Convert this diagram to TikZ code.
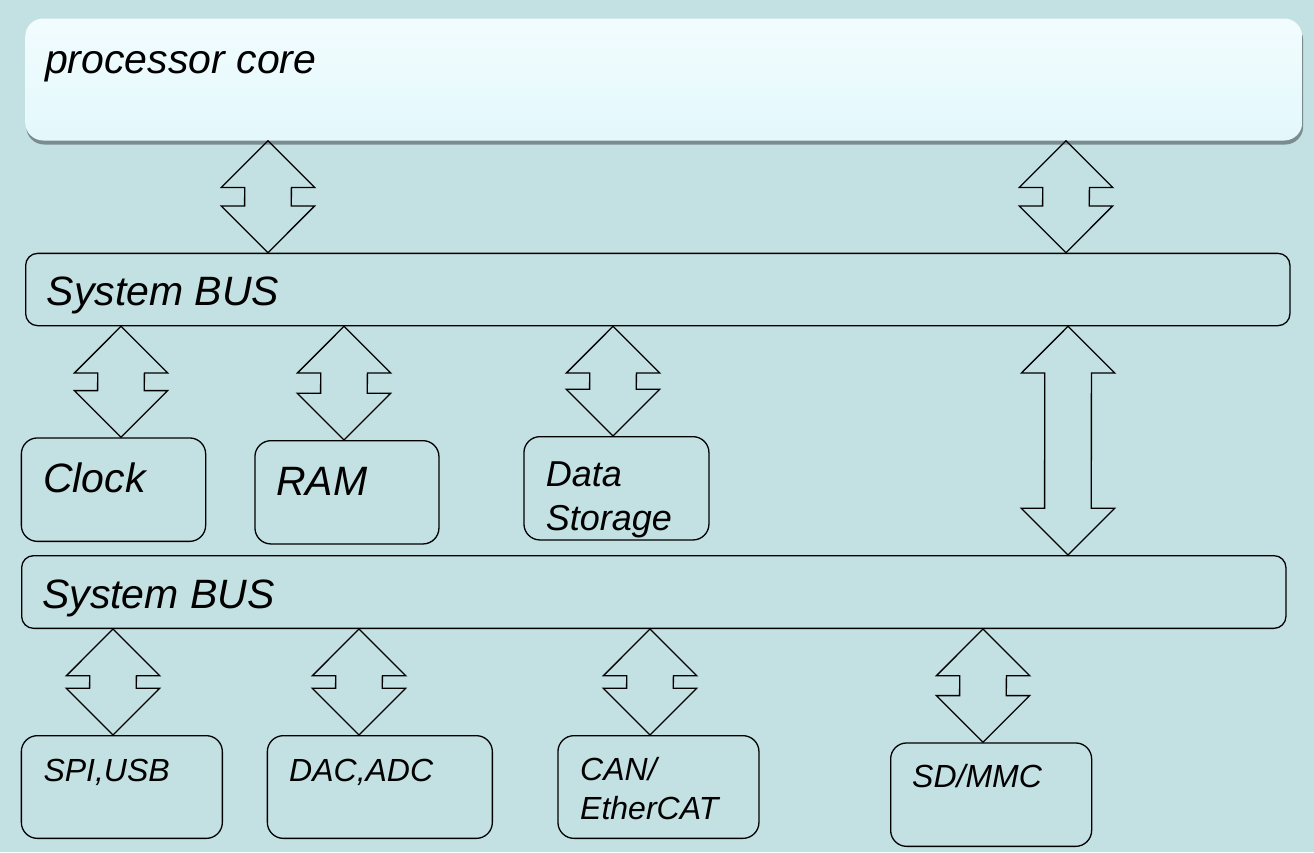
\documentclass[tikz,border=0pt]{standalone}
\usepackage{fontspec}
\setmainfont{Liberation Sans}
\usetikzlibrary{calc,shadows}
\definecolor{bgteal}{RGB}{195,224,226}
\definecolor{coretop}{RGB}{242,252,254}
\definecolor{corebot}{RGB}{227,248,252}
\definecolor{coreshade}{RGB}{122,140,142}
\begin{document}
\begin{tikzpicture}[x=1pt,y=-1pt,line join=round,line cap=round]
			\tikzset{unit/.style={draw,rounded corners=16pt,line width=1.3pt,inner sep=0pt,anchor=north west},
				bus/.style={unit,rounded corners=12pt},
				lbl/.style={inner sep=0pt,anchor=base west,font=\itshape\fontsize{41}{44}\selectfont},
				lblmid/.style={lbl,font=\itshape\fontsize{36}{40}\selectfont},
				lblsmall/.style={lbl,font=\itshape\fontsize{32}{36}\selectfont},
				bigarrow/.style={draw,line width=1.3pt,line join=miter}}
			\fill[bgteal] (0,0) rectangle (1314,852);
			\useasboundingbox (0,0) rectangle (1314,852);
			% blocks
			\node[inner sep=0pt,anchor=north west,rounded corners=18pt,top color=coretop,bottom color=corebot,
				drop shadow={shadow xshift=1pt,shadow yshift=-4pt,fill=coreshade,opacity=1},
				minimum width=1277pt,minimum height=122pt] (core) at (25,18.3) {};
			\node[bus,minimum width=1264.3pt,minimum height=72.3pt] (bus1) at (25,252.7) {};
			\node[unit,minimum width=184.3pt,minimum height=103.4pt] (clock) at (20.7,437.3) {};
			\node[unit,minimum width=184pt,minimum height=103.3pt] (ram) at (254.3,440) {};
			\node[unit,minimum width=185pt,minimum height=103.3pt] (data) at (523.3,436) {};
			\node[bus,minimum width=1264.3pt,minimum height=72.7pt] (bus2) at (21,555) {};
			\node[unit,minimum width=201pt,minimum height=102.7pt] (spi) at (20.7,735) {};
			\node[unit,minimum width=225pt,minimum height=102.7pt] (dac) at (266.7,735) {};
			\node[unit,minimum width=201pt,minimum height=102.7pt] (can) at (557.3,735) {};
			\node[unit,minimum width=201pt,minimum height=103.4pt] (sd) at (890,742.3) {};
			% labels
			\node[lbl] (coretxt) at (45,73) {processor core};
			\node[lbl] (bus1txt) at (46.7,305) {System BUS};
			\node[lbl] (clocktxt) at (43,492.7) {Clock};
			\node[lbl] (ramtxt) at (276,495) {RAM};
			\node[lblmid] (datatxt) at (545.7,486.7) {Data};
			\node[lblmid] (storagetxt) at (545.7,530.7) {Storage};
			\node[lbl] (bus2txt) at (42,608) {System BUS};
			\node[lblsmall] (spitxt) at (43.3,781) {SPI,USB};
			\node[lblsmall] (dactxt) at (289,781) {DAC,ADC};
			\node[lblsmall] (cantxt) at (580,780.7) {CAN/};
			\node[lblsmall] (ethertxt) at (580,819.3) {EtherCAT};
			\node[lblsmall] (sdtxt) at (912,787.7) {SD/MMC};
			% double block arrows
			\foreach \ax/\a/\b in {268/core/bus1,1066/core/bus1,121/bus1/clock,344/bus1/ram,613/bus1/data,
				1068/bus1/bus2,113/bus2/spi,359/bus2/dac,650/bus2/can,983/bus2/sd}
			\draw[bigarrow] let \p1=(\a.south), \p2=(\b.north) in
				(\ax pt,\y1) -- ++(46.7,46.7) -- ++(-23.3,0) -- ([shift={(23.3,-46.7)}]\ax pt,\y2) -- ++(23.3,0)
				-- (\ax pt,\y2) -- ++(-46.7,-46.7) -- ++(23.3,0) -- ([shift={(-23.3,46.7)}]\ax pt,\y1) -- ++(-23.3,0) -- cycle;
		\end{tikzpicture}
\end{document}
